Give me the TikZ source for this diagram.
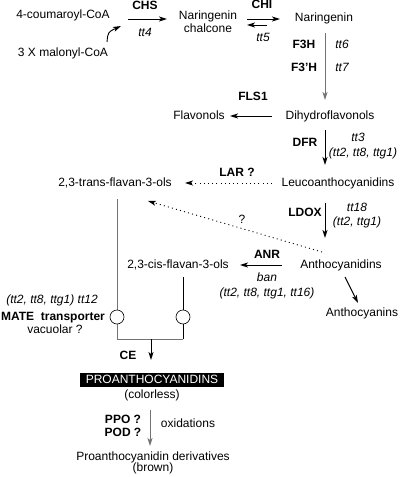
\documentclass[tikz,border=0pt]{standalone}
\usepackage{fontspec}
\setmainfont{Liberation Sans}
\usetikzlibrary{arrows.meta}
\begin{document}
\begin{tikzpicture}[x=1pt,y=-1pt,
  lbl/.style={inner sep=0pt, font=\fontsize{12}{13}\selectfont, text height=8.6pt, text depth=2.4pt},
  enz/.style={lbl, font=\fontsize{12}{13}\selectfont\bfseries},
  gen/.style={lbl, font=\fontsize{12}{13}\selectfont\itshape},
  arr/.style={line width=0.9pt, -{Stealth[length=8pt,width=5pt,inset=2pt]}},
  garr/.style={arr, draw=black!55},
  dotarr/.style={arr, dash pattern=on 1pt off 3.2pt},
  gline/.style={line width=0.9pt, draw=black!55},
  bline/.style={line width=0.8pt, draw=black},
  valve/.style={circle, draw=black, fill=white, line width=0.6pt, minimum size=14pt, inner sep=0pt}]
\useasboundingbox (0,0) rectangle (400,477);

% nodes
\node[lbl] (cou) at (63,15) {4-coumaroyl-CoA};
\node[lbl] (mal) at (63,53) {3 X malonyl-CoA};
\node[enz] (chs) at (145,6) {CHS};
\node[gen] (tt4) at (145,33) {tt4};
\node[lbl, align=center, text height=, text depth=] (nc) at (208,21.5) {Naringenin\\chalcone};
\node[enz] (chi) at (262,5) {CHI};
\node[gen] (tt5) at (263,38) {tt5};
\node[lbl] (nar) at (324,18) {Naringenin};
\node[enz] (f3h) at (304,45) {F3H};
\node[gen] (tt6) at (342,45) {tt6};
\node[enz] (f3ph) at (304,68) {F3'H};
\node[gen] (tt7) at (342,68) {tt7};
\node[lbl] (dih) at (330,116) {Dihydroflavonols};
\node[enz] (fls) at (253,97) {FLS1};
\node[lbl] (fla) at (199,116) {Flavonols};
\node[enz] (dfr) at (305,143) {DFR};
\node[gen] (tt3) at (358,138) {tt3};
\node[gen] (g1) at (363,153) {(tt2, tt8, ttg1)};
\node[lbl] (leu) at (338,183) {Leucoanthocyanidins};
\node[enz] (lar) at (237,173) {LAR ?};
\node[lbl] (trans) at (115,183) {2,3-trans-flavan-3-ols};
\node[enz] (ldox) at (305,213) {LDOX};
\node[gen] (tt18) at (357,208) {tt18};
\node[gen] (g2) at (357,222) {(tt2, ttg1)};
\node[lbl] (q) at (242,220) {?};
\node[lbl] (anth) at (341,265) {Anthocyanidins};
\node[enz] (anr) at (267,255) {ANR};
\node[gen] (ban) at (267,278) {ban};
\node[gen] (g3) at (267,293) {(tt2, tt8, ttg1, tt16)};
\node[lbl] (cis) at (178,265) {2,3-cis-flavan-3-ols};
\node[lbl] (acy) at (362,313) {Anthocyanins};
\node[gen] (g4) at (52,300) {(tt2, tt8, ttg1) tt12};
\node[enz] (mate) at (53,317) {MATE\ \ transporter};
\node[lbl] (vac) at (55,330) {vacuolar ?};
\node[enz] (ce) at (128,356) {CE};
\node[lbl, fill=black, text=white, inner xsep=6pt, inner ysep=1.5pt] (pro) at (152,380) {PROANTHOCYANIDINS};
\node[lbl] (col) at (152,395) {(colorless)};
\node[enz] (ppo) at (123,420) {PPO ?};
\node[enz] (pod) at (123,433) {POD ?};
\node[lbl] (oxi) at (188,424) {oxidations};
\node[lbl] (der) at (153,457) {Proanthocyanidin derivatives};
\node[lbl] (brw) at (153,468) {(brown)};

% connector end points
\coordinate (chsA) at (128,19);   \coordinate (chsB) at (167,19);
\coordinate (malA) at (107,42);   \coordinate (malB) at (121,26);
\coordinate (chiA) at (247,19);   \coordinate (chiB) at (280,19);
\coordinate (chiC) at (267,25);   \coordinate (chiD) at (247,25);
\coordinate (f3A) at (325,33);    \coordinate (f3B) at (325,100);
\coordinate (flsA) at (272,116);  \coordinate (flsB) at (230,116);
\coordinate (dfrA) at (325,130);  \coordinate (dfrB) at (325,165);
\coordinate (larA) at (272,183);  \coordinate (larB) at (185,183);
\coordinate (ldA) at (325,203);   \coordinate (ldB) at (325,238);
\coordinate (qA) at (322,252);    \coordinate (qB) at (148,201);
\coordinate (anrA) at (282,265);  \coordinate (anrB) at (240,265);
\coordinate (acA) at (345,277);   \coordinate (acB) at (358,303);
\coordinate (tA) at (117,199);    \coordinate (tB) at (117,339);
\coordinate (cA) at (183,277);    \coordinate (cB) at (183,339);
\coordinate (ceA) at (151,339);   \coordinate (ceB) at (151,360);
\coordinate (oxA) at (150,410);   \coordinate (oxB) at (150,446);

% connectors
\draw[arr] (chsA) -- (chsB);
\draw[arr] (malA) .. controls (108,32) .. (malB);
\draw[arr] (chiA) -- (chiB);
\draw[arr] (chiC) -- (chiD);
\draw[garr] (f3A) -- (f3B);
\draw[arr] (flsA) -- (flsB);
\draw[arr] (dfrA) -- (dfrB);
\draw[dotarr] (larA) -- (larB);
\draw[arr] (ldA) -- (ldB);
\draw[dotarr] (qA) -- (qB);
\draw[arr] (anrA) -- (anrB);
\draw[arr] (acA) -- (acB);
\draw[gline] (tA) -- (tB) -- (cB);
\draw[bline] (cA) -- (cB);
\draw[arr] (ceA) -- (ceB);
\draw[garr] (oxA) -- (oxB);
\node[valve] (v1) at (117,317) {};
\node[valve] (v2) at (183,317) {};
\end{tikzpicture}
\end{document}
